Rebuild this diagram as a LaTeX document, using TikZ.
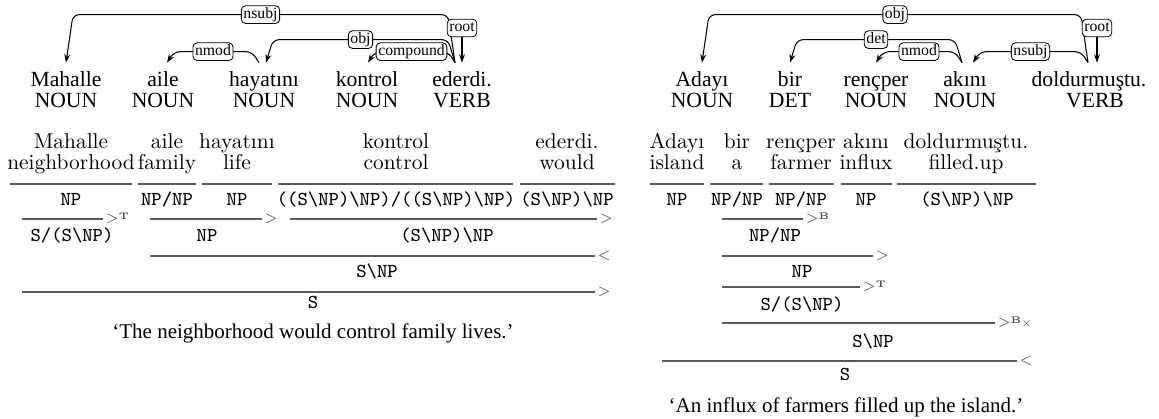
\documentclass[tikz,border=0pt]{standalone}
\usepackage{fontspec}
\usepackage{amsmath,amssymb}
\usepackage{tikz}
\usetikzlibrary{arrows.meta,positioning,calc}
\newfontfamily\depfont{Liberation Serif}
\newcommand{\bsl}{\textbackslash}
\newcommand{\rulesup}[1]{\raisebox{1.6pt}{\fontsize{4.6}{5}\selectfont\bfseries #1}}

\begin{document}
\begin{tikzpicture}[
    x=0.4762pt, y=-0.4762pt,
    >={Stealth[length=4pt,width=2.8pt]},
    word_node/.style={anchor=base, inner sep=0pt, text height=11.4pt, font=\depfont\fontsize{10.3}{12}\selectfont},
    tag_node/.style={anchor=base, inner sep=0pt, font=\depfont\fontsize{10.3}{12}\selectfont},
    rel_label/.style={draw, rounded corners=2pt, fill=white, line width=0.4pt, inner xsep=1pt, inner ysep=0.8pt, text height=5.2pt, text depth=1.6pt, font=\depfont\fontsize{7.5}{9}\selectfont},
    dep_edge/.style={->, line width=0.5pt, rounded corners=3pt},
    lex_node/.style={anchor=base, inner sep=0pt, font=\fontsize{10.2}{12}\selectfont},
    cat_node/.style={anchor=base, inner sep=0pt, font=\ttfamily\fontsize{9.4}{11}\selectfont},
    deriv_line/.style={line width=0.6pt, black!65},
    rule_label/.style={anchor=base west, yshift=-1.8pt, inner sep=1pt, font=\scriptsize, text=black!70},
    caption_node/.style={anchor=base, inner sep=0pt, font=\depfont\fontsize{10}{12}\selectfont}
]
\useasboundingbox (0,0) rectangle (1159,419);

% --- DEPENDENCY TREE (LEFT) ---
\node[word_node] (mahalle) at (66,87) {Mahalle};
\node[word_node] (aile) at (163,87) {aile};
\node[word_node] (hayatini) at (264,87) {hayatını};
\node[word_node] (kontrol) at (367,87) {kontrol};
\node[word_node] (ederdi) at (462,87) {ederdi.};

\node[tag_node] (mahalle_pos) at (66,108) {NOUN};
\node[tag_node] (aile_pos) at (163,108) {NOUN};
\node[tag_node] (hayatini_pos) at (264,108) {NOUN};
\node[tag_node] (kontrol_pos) at (367,108) {NOUN};
\node[tag_node] (ederdi_pos) at (462,108) {VERB};

\draw[dep_edge] ($(ederdi.north)+(-7,0)$) -- ++(-7,-48) -- ($(mahalle.north)+(7,-48)$) node[rel_label, midway] {nsubj} -- (mahalle.north);
\draw[dep_edge] ($(ederdi.north)+(-7,0)$) -- ++(-7,-23) -- ($(hayatini.north)+(9,-23)$) node[rel_label, midway] {obj} -- ($(hayatini.north)+(2,0)$);
\draw[dep_edge] ($(ederdi.north)+(-7,0)$) -- ++(-7,-11) -- ($(kontrol.north)+(8,-11)$) node[rel_label, midway] {compound} -- ($(kontrol.north)+(1,0)$);
\draw[dep_edge] ($(hayatini.north)+(-5,0)$) -- ++(-7,-11) -- ($(aile.north)+(11,-11)$) node[rel_label, midway] {nmod} -- ($(aile.north)+(4,0)$);

\node[rel_label] (root_left) at (462,28) {root};
\draw[dep_edge] (root_left) -- (ederdi.north);

% --- DEPENDENCY TREE (RIGHT) ---
\node[word_node] (adayi) at (702,87) {Adayı};
\node[word_node] (bir) at (790,87) {bir};
\node[word_node] (rencper) at (876,87) {rençper};
\node[word_node] (akini) at (965,87) {akını};
\node[word_node] (doldurmustu) at (1089,87) {doldurmuştu.};

\node[tag_node] (adayi_pos) at (702,108) {NOUN};
\node[tag_node] (bir_pos) at (790,108) {DET};
\node[tag_node] (rencper_pos) at (876,108) {NOUN};
\node[tag_node] (akini_pos) at (965,108) {NOUN};
\node[tag_node] (doldurmustu_pos) at (1095,108) {VERB};

\draw[dep_edge] ($(doldurmustu.north)+(-1,0)$) -- ++(-7,-48) -- ($(adayi.north)+(7,-48)$) node[rel_label, midway] {obj} -- (adayi.north);
\draw[dep_edge] ($(akini.north)+(-3,0)$) -- ++(-7,-23) -- ($(bir.north)+(7,-23)$) node[rel_label, midway] {det} -- (bir.north);
\draw[dep_edge] ($(akini.north)+(-3,0)$) -- ++(-7,-11) -- ($(rencper.north)+(7,-11)$) node[rel_label, midway] {nmod} -- (rencper.north);
\draw[dep_edge] ($(doldurmustu.north)+(-1,0)$) -- ++(-7,-11) -- ($(akini.north)+(15,-11)$) node[rel_label, midway] {nsubj} -- ($(akini.north)+(8,0)$);

\node[rel_label] (root_right) at (1097,28) {root};
\draw[dep_edge] (root_right) -- ($(doldurmustu.north)+(8,0)$);

% --- CCG DERIVATION (LEFT) ---
\node[lex_node] (mahalle_w) at (71,149) {Mahalle};
\node[lex_node] (mahalle_gl) at (71,169) {neighborhood};
\node[lex_node] (aile_w) at (167,149) {aile};
\node[lex_node] (aile_gl) at (167,169) {family};
\node[lex_node] (hayatini_w) at (237,149) {hayatını};
\node[lex_node] (hayatini_gl) at (237,169) {life};
\node[lex_node] (kontrol_w) at (396,149) {kontrol};
\node[lex_node] (kontrol_gl) at (396,169) {control};
\node[lex_node] (ederdi_w) at (567,149) {ederdi.};
\node[lex_node] (ederdi_gl) at (567,169) {would};

\draw[deriv_line] (10,184) -- (132,184);
\draw[deriv_line] (138,184) -- (196,184);
\draw[deriv_line] (202,184) -- (272,184);
\draw[deriv_line] (278,184) -- (513,184);
\draw[deriv_line] (520,184) -- (615,184);

\node[cat_node] (mahalle_cat) at (71,205) {NP};
\node[cat_node] (aile_cat) at (167,205) {NP/NP};
\node[cat_node] (hayatini_cat) at (237,205) {NP};
\node[cat_node] (kontrol_cat) at (396,205) {((S\bsl NP)\bsl NP)/((S\bsl NP)\bsl NP)};
\node[cat_node] (ederdi_cat) at (567,205) {(S\bsl NP)\bsl NP};

% 1. type raising and application
\draw[deriv_line] (22,219) -- (103,219) node[rule_label] {$>$\rulesup{T}};
\node[cat_node] (subj_tr) at (72,242) {S/(S\bsl NP)};
\draw[deriv_line] (150,219) -- (262,219) node[rule_label] {$>$};
\node[cat_node] (obj_np) at (207,242) {NP};
\draw[deriv_line] (290,219) -- (597,219) node[rule_label] {$>$};
\node[cat_node] (verb_cat) at (447,242) {(S\bsl NP)\bsl NP};

% 2. backward application
\draw[deriv_line] (150,256) -- (595,256) node[rule_label] {$<$};
\node[cat_node] (vp_cat) at (377,277) {S\bsl NP};

% 3. sentence
\draw[deriv_line] (22,292) -- (595,292) node[rule_label] {$>$};
\node[cat_node] (s_left) at (313,308) {S};

\node[caption_node] (caption_left) at (313,338) {‘The neighborhood would control family lives.’};

% --- CCG DERIVATION (RIGHT) ---
\node[lex_node] (adayi_w) at (677,149) {Adayı};
\node[lex_node] (adayi_gl) at (677,169) {island};
\node[lex_node] (bir_w) at (737,149) {bir};
\node[lex_node] (bir_gl) at (737,169) {a};
\node[lex_node] (rencper_w) at (801,149) {rençper};
\node[lex_node] (rencper_gl) at (801,169) {farmer};
\node[lex_node] (akini_w) at (866,149) {akını};
\node[lex_node] (akini_gl) at (866,169) {influx};
\node[lex_node] (doldurmustu_w) at (966,149) {doldurmuştu.};
\node[lex_node] (doldurmustu_gl) at (966,169) {filled.up};

\draw[deriv_line] (650,184) -- (704,184);
\draw[deriv_line] (710,184) -- (763,184);
\draw[deriv_line] (769,184) -- (834,184);
\draw[deriv_line] (841,184) -- (892,184);
\draw[deriv_line] (897,184) -- (1036,184);

\node[cat_node] (adayi_cat) at (677,205) {NP};
\node[cat_node] (bir_cat) at (737,205) {NP/NP};
\node[cat_node] (rencper_cat) at (801,205) {NP/NP};
\node[cat_node] (akini_cat) at (866,205) {NP};
\node[cat_node] (doldurmustu_cat) at (967,205) {(S\bsl NP)\bsl NP};

\draw[deriv_line] (722,219) -- (803,219) node[rule_label] {$>$\rulesup{B}};
\node[cat_node] (mod_comp) at (775,242) {NP/NP};
\draw[deriv_line] (722,256) -- (873,256) node[rule_label] {$>$};
\node[cat_node] (subj_np) at (802,277) {NP};
\draw[deriv_line] (722,287) -- (860,287) node[rule_label] {$>$\rulesup{T}};
\node[cat_node] (subj_tr_r) at (802,310) {S/(S\bsl NP)};
\draw[deriv_line] (722,323) -- (995,323) node[rule_label] {$>$\rulesup{B$_{\times}$}};
\node[cat_node] (vp_cat_r) at (873,347) {S\bsl NP};
\draw[deriv_line] (662,361) -- (1017,361) node[rule_label] {$<$};
\node[cat_node] (s_right) at (845,380) {S};

\node[caption_node] (caption_right) at (846,412) {‘An influx of farmers filled up the island.’};

\end{tikzpicture}
\end{document}
